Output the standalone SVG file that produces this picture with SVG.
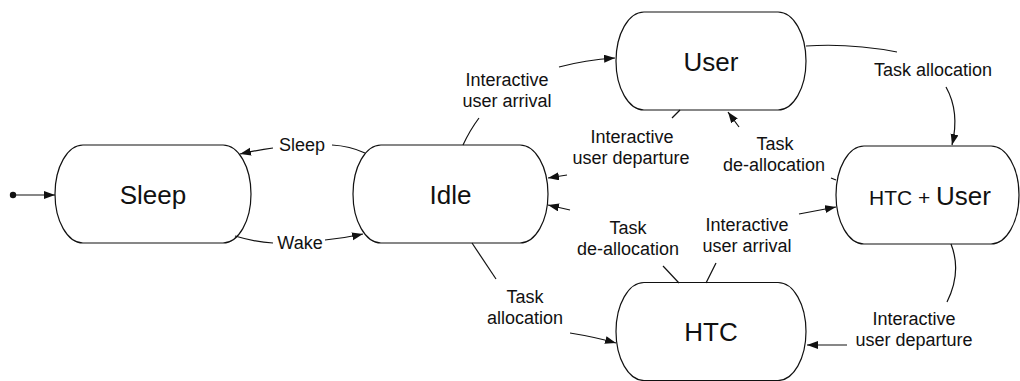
<svg xmlns="http://www.w3.org/2000/svg" width="1020" height="381" viewBox="0 0 1020 381">
<style>
.node{fill:#fff;stroke:#111;stroke-width:1.2}
.nl{font-family:"Liberation Sans",Arial,Helvetica,sans-serif;font-size:26px;fill:#111;text-anchor:middle}
.el{font-family:"Liberation Sans",Arial,Helvetica,sans-serif;font-size:18px;fill:#111;text-anchor:middle}
.c{fill:none;stroke:#111;stroke-width:1.2}
</style>
<defs>
<marker id="ah" markerUnits="userSpaceOnUse" markerWidth="12" markerHeight="9" refX="11" refY="4" orient="auto">
<path d="M0,0 L11,4 L0,8 z" fill="#111"/>
</marker>
</defs>
<rect width="1020" height="381" fill="#fff"/>
<g id="nodes">
<g id="node-sleep"><rect class="node" x="55" y="145" width="196" height="98" rx="28" ry="49"/><text class="nl" x="153" y="204">Sleep</text></g>
<g id="node-idle"><rect class="node" x="353" y="145" width="195" height="98" rx="28" ry="49"/><text class="nl" x="450.5" y="204">Idle</text></g>
<g id="node-user"><rect class="node" x="616" y="12" width="190" height="98" rx="28" ry="49"/><text class="nl" x="711" y="71">User</text></g>
<g id="node-htcuser"><rect class="node" x="836" y="146" width="183" height="98" rx="28" ry="49"/><text class="nl" x="930" y="205"><tspan font-size="21px">HTC + </tspan>User</text></g>
<g id="node-htc"><rect class="node" x="616" y="282.5" width="190" height="98" rx="28" ry="49"/><text class="nl" x="711" y="341">HTC</text></g>
</g>
<g id="connectors">
<circle cx="13" cy="195" r="3.2" fill="#111"/>
<path class="c" d="M13,195 L55,195" marker-end="url(#ah)"/>
<path class="c" d="M365,153 Q350,146 332,145"/>
<path class="c" d="M273,148 Q258,150 240,154" marker-end="url(#ah)"/>
<path class="c" d="M235,236 Q255,242 273,243"/>
<path class="c" d="M325,240 Q345,238 363,234" marker-end="url(#ah)"/>
<path class="c" d="M463,145 Q470,130 479,118"/>
<path class="c" d="M559,67 Q585,60 615,58" marker-end="url(#ah)"/>
<path class="c" d="M680,110 L672,118"/>
<path class="c" d="M567,175 L548,178" marker-end="url(#ah)"/>
<path class="c" d="M806,46 Q850,43 897,52"/>
<path class="c" d="M946,87 Q960,112 952,145" marker-end="url(#ah)"/>
<path class="c" d="M836,180 L831,178"/>
<path class="c" d="M739,127 L728,112" marker-end="url(#ah)"/>
<path class="c" d="M679,283 L663,266"/>
<path class="c" d="M570,210 L548,205" marker-end="url(#ah)"/>
<path class="c" d="M472,243 L496,279"/>
<path class="c" d="M570,333 Q595,337 616,343" marker-end="url(#ah)"/>
<path class="c" d="M706,283 L716,263"/>
<path class="c" d="M799,214 L836,207" marker-end="url(#ah)"/>
<path class="c" d="M951,244 Q962,272 947,302"/>
<path class="c" d="M847,345 L807,345" marker-end="url(#ah)"/>
</g>
<g id="labels">
<text class="el" x="302" y="151">Sleep</text>
<text class="el" x="300" y="249">Wake</text>
<text class="el" x="507" y="86">Interactive</text>
<text class="el" x="507" y="107">user arrival</text>
<text class="el" x="632" y="143">Interactive</text>
<text class="el" x="631" y="164">user departure</text>
<text class="el" x="933" y="76">Task allocation</text>
<text class="el" x="775" y="150">Task</text>
<text class="el" x="774" y="171">de-allocation</text>
<text class="el" x="628" y="234">Task</text>
<text class="el" x="628" y="255">de-allocation</text>
<text class="el" x="525" y="303">Task</text>
<text class="el" x="525" y="324">allocation</text>
<text class="el" x="747" y="231">Interactive</text>
<text class="el" x="747" y="252">user arrival</text>
<text class="el" x="914" y="325">Interactive</text>
<text class="el" x="914" y="346">user departure</text>
</g>
</svg>
